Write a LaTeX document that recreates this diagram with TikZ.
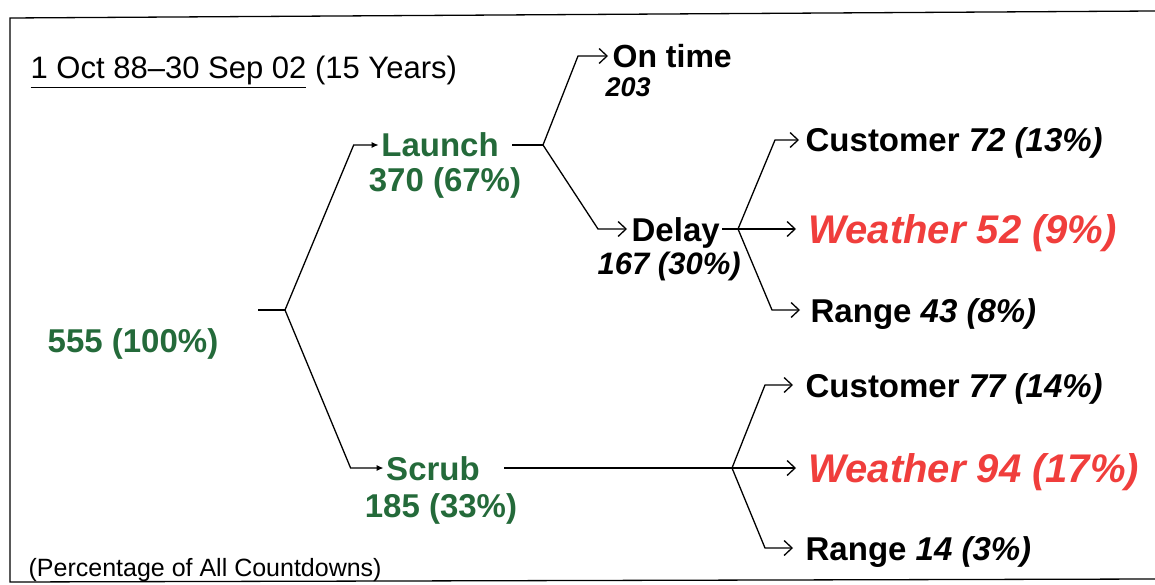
\documentclass[tikz,border=0pt]{standalone}
\usepackage{fontspec}
\setmainfont{Liberation Sans}
\usetikzlibrary{arrows.meta}
\definecolor{cdgreen}{RGB}{36,106,58}
\definecolor{cdred}{RGB}{240,62,60}

\begin{document}
\begin{tikzpicture}[x=1pt,y=-1pt,line width=1.3pt,
  lbl/.style={anchor=west,inner sep=2pt,text height=24pt,text depth=0pt,font=\fontsize{33}{35}\selectfont\bfseries},
  grn/.style={lbl,anchor=center,text=cdgreen},
  wx/.style={lbl,text height=29pt,font=\fontsize{40}{42}\selectfont\bfseries\itshape,text=cdred},
  fill tip/.style={-{Latex[length=7pt,width=6pt]}},
  open tip/.style={-{Straight Barb[length=8pt,width=15pt]}}]
\useasboundingbox (0,0) rectangle (1155,585);
\draw (1155,11) -- (10,18) -- (10,582) -- (1155,579);

\node[lbl,font=\fontsize{31}{33}\selectfont,text height=22pt] (title) at (28,68) {\underline{1 Oct 88–30 Sep 02} (15 Years)};
\node[lbl,font=\fontsize{25}{27}\selectfont,text height=18pt] (note) at (26,567) {(Percentage of All Countdowns)};

\node[grn] (root) at (133,340) {555 (100\%)};
\node[grn] (launch) at (440,145) {Launch};
\node[grn] (launchN) at (445,180) {370 (67\%)};
\node[grn] (scrub) at (433,468) {Scrub};
\node[grn] (scrubN) at (441,505) {185 (33\%)};

\node[lbl,font=\fontsize{32}{34}\selectfont\bfseries] (ontime) at (610,56) {On time};
\node[lbl,text height=20pt,font=\fontsize{27}{29}\selectfont\bfseries\itshape] (ontimeN) at (603,87) {203};
\node[lbl] (delay) at (629,229) {Delay};
\node[lbl,font=\fontsize{31}{33}\selectfont\bfseries\itshape] (delayN) at (595,262) {167 (30\%)};

\node[lbl] (cust1) at (803,140) {Customer \textit{72 (13\%)}};
\node[wx] (weather1) at (806,229) {Weather 52 (9\%)};
\node[lbl] (range1) at (808,310) {Range \textit{43 (8\%)}};
\node[lbl] (cust2) at (803,385) {Customer \textit{77 (14\%)}};
\node[wx] (weather2) at (806,468) {Weather 94 (17\%)};
\node[lbl] (range2) at (803,548) {Range \textit{14 (3\%)}};

\coordinate (r0) at (258,310);
\coordinate (r1) at (285,310);
\coordinate (l1) at (543,145);
\coordinate (d1) at (738,229);
\coordinate (s1) at (732,468);

\draw (r0) -- (r1);
\draw[fill tip] (r1) -- ([xshift=-25pt]launch.west) -- (launch.west);
\draw[fill tip] (r1) -- ([xshift=-33pt]scrub.west) -- (scrub.west);

\draw ([xshift=11pt]launch.east) -- (l1);
\draw[open tip] (l1) -- ([xshift=-32pt]ontime.west) -- ([xshift=-2pt]ontime.west);
\draw[open tip] (l1) -- ([xshift=-31pt]delay.west) -- ([xshift=-2pt]delay.west);

\draw (delay.east) -- (d1);
\draw[open tip] (d1) -- ([xshift=-28pt]cust1.west) -- ([xshift=-4pt]cust1.west);
\draw[open tip] (d1) -- ([xshift=-10pt]weather1.west);
\draw[open tip] (d1) -- ([xshift=-36pt]range1.west) -- ([xshift=-8pt]range1.west);

\draw ([xshift=22pt]scrub.east) -- (s1);
\draw[open tip] (s1) -- ([xshift=-38pt]cust2.west) -- ([xshift=-10pt]cust2.west);
\draw[open tip] (s1) -- ([xshift=-10pt]weather2.west);
\draw[open tip] (s1) -- ([xshift=-38pt]range2.west) -- ([xshift=-10pt]range2.west);
\end{tikzpicture}
\end{document}
